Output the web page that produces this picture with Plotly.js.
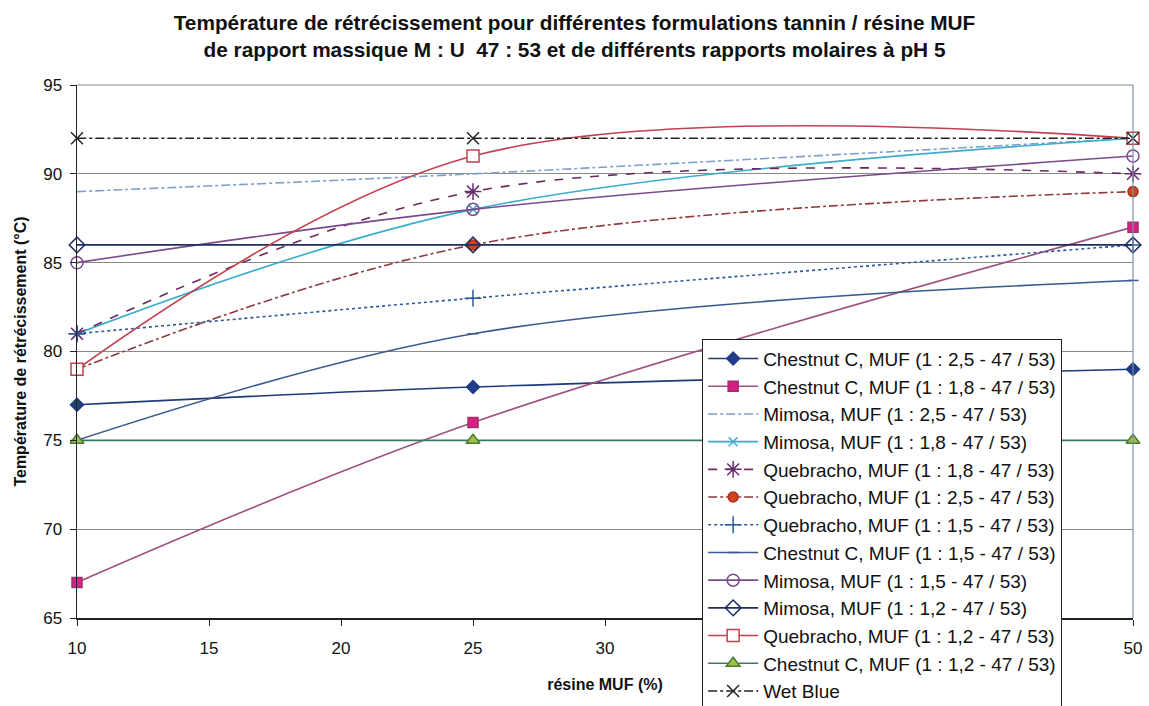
<!DOCTYPE html>
<html>
<head>
<meta charset="utf-8">
<script src="https://cdn.plot.ly/plotly-3.0.1.min.js"></script>
<style>html,body{margin:0;padding:0;background:#fff;}#chart{width:1149px;height:706px;}</style>
</head>
<body>
<div id="chart"></div>
<script>
const resineMUF = [10, 25, 50];

const seriesNames = [
  "Chestnut C, MUF (1 : 2,5 - 47 / 53)",
  "Chestnut C, MUF (1 : 1,8 - 47 / 53)",
  "Mimosa, MUF (1 : 2,5 - 47 / 53)",
  "Mimosa, MUF (1 : 1,8 - 47 / 53)",
  "Quebracho, MUF (1 : 1,8 - 47 / 53)",
  "Quebracho, MUF (1 : 2,5 - 47 / 53)",
  "Quebracho, MUF (1 : 1,5 - 47 / 53)",
  "Chestnut C, MUF (1 : 1,5 - 47 / 53)",
  "Mimosa, MUF (1 : 1,5 - 47 / 53)",
  "Mimosa, MUF (1 : 1,2 - 47 / 53)",
  "Quebracho, MUF (1 : 1,2 - 47 / 53)",
  "Chestnut C, MUF (1 : 1,2 - 47 / 53)",
  "Wet Blue"
];

const chestnut_25 = [77, 78, 79];
const chestnut_18 = [67, 76, 87];
const mimosa_25 = [89, 90, 92];
const mimosa_18 = [81, 88, 92];
const quebracho_18 = [81, 89, 90];
const quebracho_25 = [79, 86, 89];
const quebracho_15 = [81, 83, 86];
const chestnut_15 = [75, 81, 84];
const mimosa_15 = [85, 88, 91];
const mimosa_12 = [86, 86, 86];
const quebracho_12 = [79, 91, 92];
const chestnut_12 = [75, 75, 75];
const wetBlue = [92, 92, 92];

const seriesValues = [chestnut_25, chestnut_18, mimosa_25, mimosa_18, quebracho_18,
  quebracho_25, quebracho_15, chestnut_15, mimosa_15, mimosa_12, quebracho_12, chestnut_12, wetBlue];

const styles = [
  {lc:"#1f3a78", dash:"solid", sym:"diamond", mc:"#1f3c88", ml:"#1f3c88", ms:10, show:true},
  {lc:"#a0507e", dash:"solid", sym:"square", mc:"#d81f86", ml:"#a0306a", ms:10, show:true},
  {lc:"#7f9fcc", dash:"dashdot", sym:"circle", mc:"rgba(0,0,0,0)", ml:"rgba(0,0,0,0)", ms:1, show:false},
  {lc:"#3aaccc", dash:"solid", sym:"x-thin-open", mc:"#3aaccc", ml:"#3aaccc", ms:9, show:true},
  {lc:"#6a2a5e", dash:"dash", sym:"asterisk-open", mc:"#6a2a6e", ml:"#6a2a6e", ms:14, show:true},
  {lc:"#8e3a3e", dash:"dashdot", sym:"circle", mc:"#d0441e", ml:"#a83020", ms:10, show:true},
  {lc:"#2a5a9c", dash:"dot", sym:"cross-thin-open", mc:"#2a5a9c", ml:"#2a5a9c", ms:12, show:true},
  {lc:"#3a5a8e", dash:"solid", sym:"line-ew-open", mc:"#3a5a8e", ml:"#3a5a8e", ms:8, show:true},
  {lc:"#7a4a8e", dash:"solid", sym:"circle-open", mc:"#7a4a8e", ml:"#7a4a8e", ms:12, show:true},
  {lc:"#1f2f5f", dash:"solid", sym:"diamond-open", mc:"#1f2f5f", ml:"#1f2f5f", ms:12, show:true},
  {lc:"#c0404e", dash:"solid", sym:"square", mc:"#ffffff", ml:"#c0404e", ms:12, show:true},
  {lc:"#3a7a5e", dash:"solid", sym:"triangle-up", mc:"#a4c23c", ml:"#4a7a3a", ms:12, show:true},
  {lc:"#222222", dash:"dashdot", sym:"x-thin-open", mc:"#222222", ml:"#222222", ms:12, show:true}
];

const traces = seriesNames.map((name, i) => {
  const s = styles[i];
  return {
    x: resineMUF,
    y: seriesValues[i],
    name: name,
    legendgroup: "g" + i,
    type: "scatter",
    mode: s.show ? "lines+markers" : "lines",
    line: {color: s.lc, width: 1.6, dash: s.dash, shape: "spline", smoothing: 1},
    marker: {symbol: s.sym, size: s.ms, color: s.mc, line: {color: s.ml, width: 1.5}},
    cliponaxis: false
  };
});

const layout = {
  width: 1149, height: 706,
  margin: {l: 77, r: 16, t: 85, b: 88, autoexpand: false},
  paper_bgcolor: "#ffffff",
  plot_bgcolor: "#ffffff",
  font: {family: "Liberation Sans, Arial, sans-serif", color: "#111111"},
  title: {
    text: "Température de rétrécissement pour différentes formulations tannin / résine MUF<br>de rapport massique M : U  47 : 53 et de différents rapports molaires à pH 5",
    font: {size: 20.8, family: "Liberation Sans, Arial, sans-serif", weight: "bold", color: "#111"},
    x: 0.5, xanchor: "center", y: 0.958, yanchor: "top"
  },
  xaxis: {
    range: [10, 50], dtick: 5, tick0: 10,
    showgrid: false, zeroline: false,
    showline: true, linecolor: "#222", linewidth: 1.5,
    ticks: "outside", ticklen: 6, tickcolor: "#222",
    ticklabelstandoff: 8,
    tickfont: {size: 17, color: "#111"},
    title: {text: "résine MUF (%)", font: {size: 16, weight: "bold", color: "#111"}, standoff: 22}
  },
  yaxis: {
    range: [65, 95], dtick: 5,
    showgrid: true, gridcolor: "#8a8a8a", gridwidth: 1, zeroline: false,
    showline: true, linecolor: "#222", linewidth: 1.5,
    ticks: "outside", ticklen: 6, tickcolor: "#222",
    ticklabelstandoff: 4,
    tickfont: {size: 17, color: "#111"},
    title: {text: "Température de rétrécissement (°C)", font: {size: 16, weight: "bold", color: "#111"}, standoff: 12}
  },
  shapes: [
    {type: "line", xref: "paper", yref: "paper", x0: 1, x1: 1, y0: 0, y1: 1, line: {color: "#7f8fa8", width: 1.2}},
    {type: "line", xref: "paper", yref: "paper", x0: 0, x1: 1, y0: 1, y1: 1, line: {color: "#8a8a8a", width: 1.2}}
  ],
  legend: {
    x: 0.592, y: 0.524, xanchor: "left", yanchor: "top",
    bgcolor: "#ffffff", bordercolor: "#222", borderwidth: 1,
    font: {size: 19, color: "#111"},
    traceorder: "grouped", tracegroupgap: 0,
    itemwidth: 50
  },
  showlegend: true
};

Plotly.newPlot("chart", traces, layout, {displayModeBar: false, staticPlot: true});
</script>
</body>
</html>
